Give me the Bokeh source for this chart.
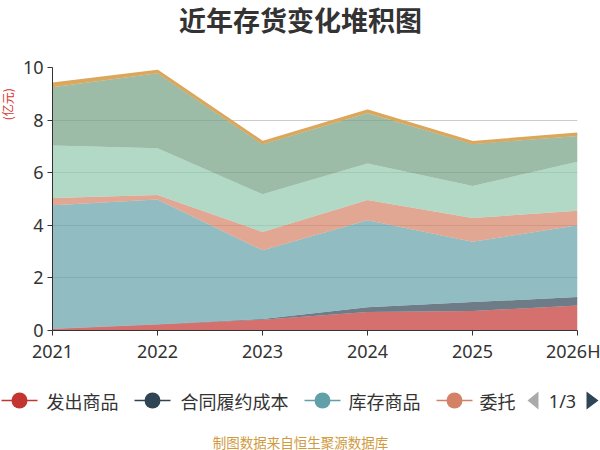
import math
from bokeh.plotting import figure
from bokeh.layouts import column, row
from bokeh.models import Range1d, FixedTicker, ColumnDataSource
from bokeh.core.properties import value
from bokeh.embed import file_html
from bokeh.resources import INLINE

categories = ["2021", "2022", "2023", "2024", "2025", "2026H"]
names = ["发出商品", "合同履约成本", "库存商品", "委托加工物资", "在产品", "原材料", "周转材料"]
fachu = [0.06, 0.23, 0.41, 0.70, 0.74, 0.95]
hetong = [0.01, 0.01, 0.03, 0.18, 0.34, 0.32]
kucun = [4.69, 4.74, 2.61, 3.31, 2.29, 2.73]
weituo = [0.28, 0.17, 0.70, 0.77, 0.91, 0.55]
zaichan = [1.99, 1.78, 1.43, 1.39, 1.21, 1.87]
yuancailiao = [2.22, 2.85, 1.90, 1.91, 1.60, 0.98]
zhouzhuan = [0.12, 0.08, 0.07, 0.09, 0.06, 0.07]
series = [fachu, hetong, kucun, weituo, zaichan, yuancailiao, zhouzhuan]
colors = ["#c23531", "#2f4554", "#61a0a8", "#d48265", "#91c7ae", "#749f83", "#ca8622"]
legend_labels = ["发出商品", "合同履约成本", "库存商品", "委托"]
page_text = "1/3"
title_text = "近年存货变化堆积图"
unit_text = "(亿元)"
footer_text = "制图数据来自恒生聚源数据库"

CJK = "Noto Sans CJK SC"
W = 600
HEAD_H, MAIN_H, FOOT_H, SIDE_W = 40, 330, 80, 16


def blank(width, height):
    f = figure(width=width, height=height, output_backend="svg", toolbar_location=None,
               x_range=Range1d(0, width), y_range=Range1d(height, 0),
               x_axis_type=None, y_axis_type=None, min_border=0)
    f.outline_line_color = None
    f.grid.visible = False
    return f


# ---- header with title
head = blank(W, HEAD_H)
head.text(x=[300], y=[19], text=[title_text], text_font=value(CJK), text_font_size="27px",
          text_font_style="bold", text_color="#333333", text_align="center", text_baseline="middle")

# ---- side strip with unit label
side = blank(SIDE_W, MAIN_H)
side.text(x=[7], y=[46], text=[unit_text], angle=math.pi / 2, text_font=value(CJK), text_font_size="12px",
          text_color="#d8342c", text_align="center", text_baseline="middle")

# ---- main chart
p = figure(width=W - SIDE_W, height=MAIN_H, output_backend="svg", toolbar_location=None,
           x_range=Range1d(0, len(categories) - 1), y_range=Range1d(0, 10),
           min_border_left=52 - SIDE_W, min_border_right=23, min_border_top=27, min_border_bottom=40)
p.outline_line_color = None

data = {"x": list(range(len(categories)))}
for n, s in zip(names, series):
    data[n] = s
src = ColumnDataSource(data)
p.varea_stack(stackers=names, x="x", color=colors, fill_alpha=0.7, source=src)

top = [sum(v) for v in zip(*series)]
p.line(list(range(len(categories))), top, line_color="#dba75c", line_width=3)

p.xaxis.ticker = FixedTicker(ticks=list(range(len(categories))))
p.xaxis.major_label_overrides = {i: c for i, c in enumerate(categories)}
p.yaxis.ticker = FixedTicker(ticks=[0, 2, 4, 6, 8, 10])
for ax in (p.xaxis[0], p.yaxis[0]):
    ax.axis_line_color = "#333333"
    ax.major_tick_line_color = "#333333"
    ax.minor_tick_line_color = None
    ax.major_tick_out = 5
    ax.major_tick_in = 0
    ax.major_label_text_font = "Noto Sans"
    ax.major_label_text_font_size = "18px"
    ax.major_label_text_color = "#333333"
p.yaxis.major_label_standoff = 4
p.xaxis.major_label_standoff = 3
p.xgrid.grid_line_color = None
p.ygrid.grid_line_color = "#cccccc"

# ---- footer with legend (page 1/3) and source note
foot = blank(W, FOOT_H)
leg_y = 30
centers = [19, 152, 322, 454]
text_x = [46, 180, 348, 479]
foot.segment(x0=[c - 18 for c in centers], x1=[c + 18 for c in centers], y0=[leg_y] * 4, y1=[leg_y] * 4,
             line_color=colors[:4], line_width=1.5)
foot.scatter(x=centers, y=[leg_y] * 4, size=16, marker="circle", fill_color=colors[:4], line_color=None)
foot.text(x=text_x, y=[leg_y] * 4, text=legend_labels, text_font=value(CJK), text_font_size="18px",
          text_color="#333333", text_align="left", text_baseline="middle")
foot.patch(x=[538, 538, 527], y=[leg_y - 9, leg_y + 9, leg_y], fill_color="#aaaaaa", line_color=None)
foot.text(x=[562], y=[leg_y], text=[page_text], text_font=value("Noto Sans"), text_font_size="18px",
          text_color="#333333", text_align="center", text_baseline="middle")
foot.patch(x=[586, 586, 598], y=[leg_y - 9, leg_y + 9, leg_y], fill_color="#2f4554", line_color=None)
foot.text(x=[300], y=[71], text=[footer_text], text_font=value(CJK), text_font_size="13.5px",
          text_color="#d09a3e", text_align="center", text_baseline="middle")

layout = column(head, row(side, p, spacing=0), foot, spacing=0)
open("out.html", "w").write(file_html(layout, INLINE))
